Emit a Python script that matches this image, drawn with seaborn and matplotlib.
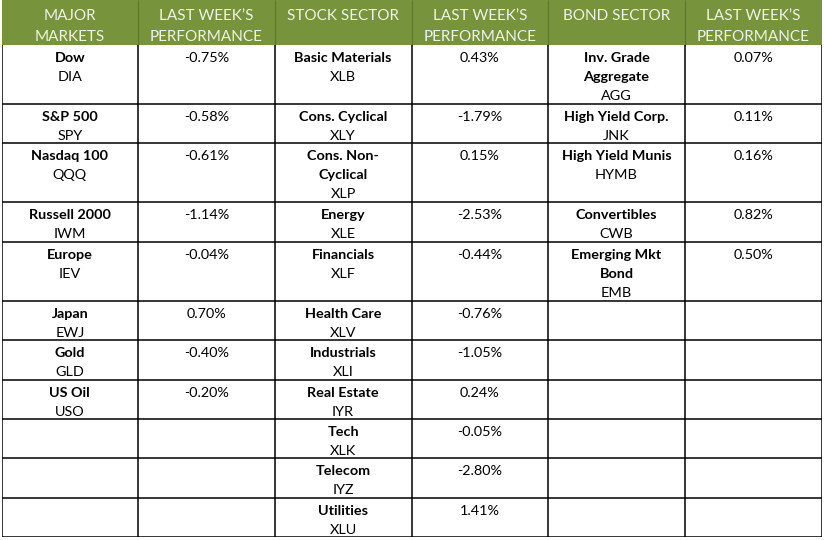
import numpy as np
import pandas as pd
import seaborn as sns
import matplotlib.pyplot as plt


# weekly performance table (values in %)
headers = ["MAJOR\nMARKETS", "LAST WEEK\u2019S\nPERFORMANCE", "STOCK SECTOR",
           "LAST WEEK\u2019S\nPERFORMANCE", "BOND SECTOR", "LAST WEEK\u2019S\nPERFORMANCE"]

market_names = ["Dow", "S&P 500", "Nasdaq 100", "Russell 2000", "Europe", "Japan", "Gold", "US Oil"]
market_tickers = ["DIA", "SPY", "QQQ", "IWM", "IEV", "EWJ", "GLD", "USO"]
market_perf = [-0.75, -0.58, -0.61, -1.14, -0.04, 0.70, -0.40, -0.20]

stock_names = ["Basic Materials", "Cons. Cyclical", "Cons. Non-\nCyclical", "Energy", "Financials",
               "Health Care", "Industrials", "Real Estate", "Tech", "Telecom", "Utilities"]
stock_tickers = ["XLB", "XLY", "XLP", "XLE", "XLF", "XLV", "XLI", "IYR", "XLK", "IYZ", "XLU"]
stock_perf = [0.43, -1.79, 0.15, -2.53, -0.44, -0.76, -1.05, 0.24, -0.05, -2.80, 1.41]

bond_names = ["Inv. Grade\nAggregate", "High Yield Corp.", "High Yield Munis", "Convertibles",
              "Emerging Mkt\nBond"]
bond_tickers = ["AGG", "JNK", "HYMB", "CWB", "EMB"]
bond_perf = [0.07, 0.11, 0.16, 0.82, 0.50]

groups = [(market_names, market_tickers, market_perf),
          (stock_names, stock_tickers, stock_perf),
          (bond_names, bond_tickers, bond_perf)]

sns.set_theme(style="white")
plt.rcParams['font.family'] = ['Lato', 'DejaVu Sans']

green = "#77933c"
head_txt = "#eef3e2"

n_rows = max(len(g[0]) for g in groups)
row_lines = []
for i in range(n_rows):
    row_lines.append(max([g[0][i].count("\n") + 2 for g in groups if i < len(g[0])] + [2]))

header_h = 45
line_h = 19.68
bounds = header_h + np.concatenate([[0], np.cumsum(row_lines)]) * line_h
total_h = bounds[-1]

fig = plt.figure(figsize=(8.25, 5.40), dpi=100)
ax = fig.add_axes([1.5 / 825, (540 - total_h) / 540, 820 / 825, total_h / 540])
ax.set_xlim(0, 6)
ax.set_ylim(total_h, 0)
ax.axis("off")

# header band
ax.fill_between([0, 6], 0, header_h, color=green, lw=0)
ax.vlines(np.arange(1, 6), 0, header_h, color="#5d7630", lw=0.8)
for c, h in enumerate(headers):
    for k, part in enumerate(h.split("\n")):
        ax.text(c + 0.5, 20 + k * 21, part, ha="center", va="baseline",
                color=head_txt, fontsize=11)

# grid
ax.hlines(bounds[1:], 0, 6, color="black", lw=1.1)
ax.vlines(np.arange(0, 7), header_h, total_h, color="black", lw=1.1)

# cells
fs = 10.4
for gi, (names, tickers, perf) in enumerate(groups):
    df = pd.DataFrame({"name": names, "ticker": tickers, "perf": perf})
    for i, row in df.iterrows():
        top = bounds[i]
        parts = row["name"].split("\n")
        for k, part in enumerate(parts):
            ax.text(gi * 2 + 0.5, top + 17 + k * 19, part, ha="center", va="baseline",
                    fontsize=fs, fontweight="bold", color="black")
        ax.text(gi * 2 + 0.5, top + 17 + len(parts) * 19, row["ticker"], ha="center",
                va="baseline", fontsize=fs, color="black")
        ax.text(gi * 2 + 1.5, top + 17, f"{row['perf']:.2f}%", ha="center", va="baseline",
                fontsize=fs, color="black")

fig.savefig("out.png", dpi=100)
